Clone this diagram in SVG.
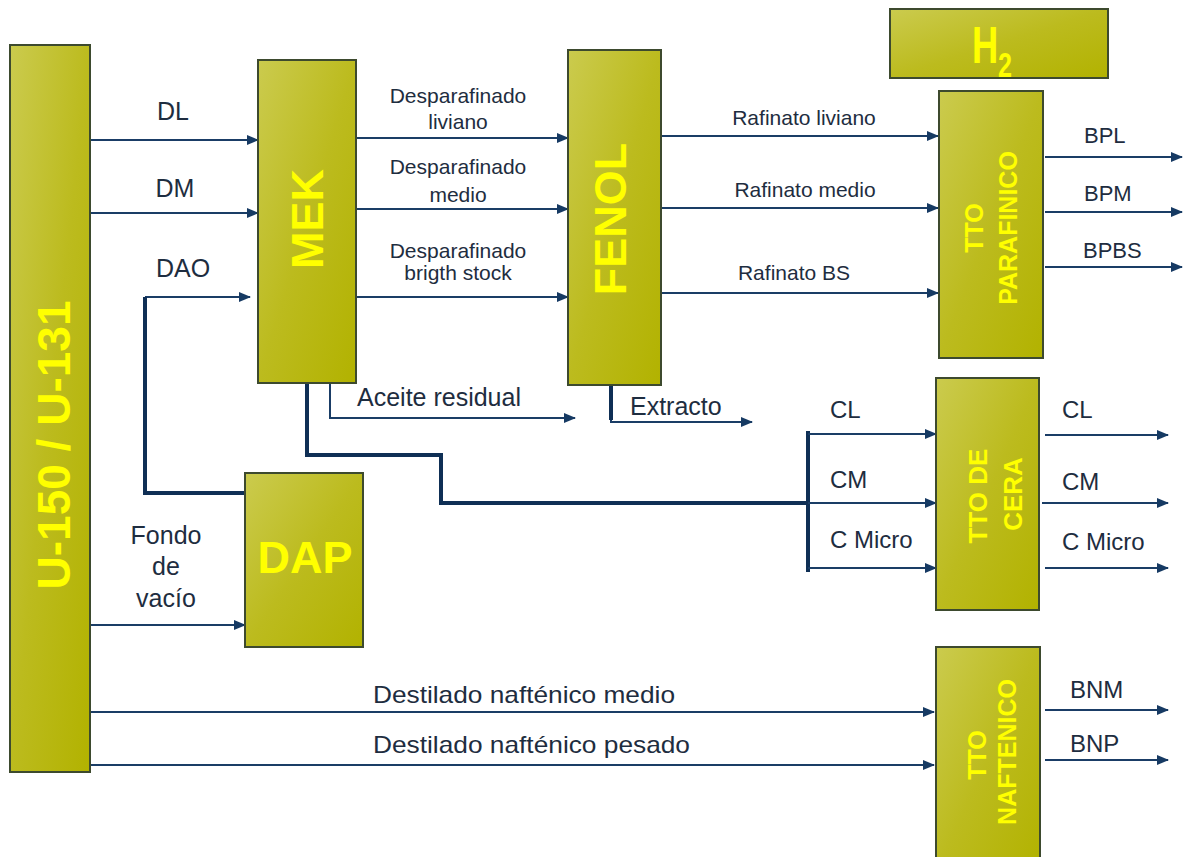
<svg xmlns="http://www.w3.org/2000/svg" width="1184" height="857" viewBox="0 0 1184 857">
<defs>
<linearGradient id="olive" x1="0" y1="0" x2="1" y2="1">
<stop offset="0" stop-color="#cbcb4e"/>
<stop offset="0.5" stop-color="#bcbb1e"/>
<stop offset="1" stop-color="#b2b200"/>
</linearGradient>
<marker id="ah" markerUnits="userSpaceOnUse" markerWidth="12" markerHeight="10" refX="11" refY="5" orient="auto">
<path d="M0,0 L12,5 L0,10 Z" fill="#163a63"/>
</marker>
</defs>
<style>
.box{fill:url(#olive);stroke:#3d4a2e;stroke-width:2}
.big{font-family:"Liberation Sans",Arial,sans-serif;font-weight:bold;fill:#ffff00}
.lbl{font-family:"Liberation Sans",Arial,sans-serif;fill:#1e2d40}
.ln{fill:none;stroke:#1a3d66;stroke-width:2}
.thk{fill:none;stroke:#0f2f55;stroke-width:4}
.arr{marker-end:url(#ah)}
</style>
<rect width="1184" height="857" fill="#ffffff"/>

<g id="connectors">
<path class="ln arr" d="M90,140 H258"/>
<path class="ln arr" d="M90,213 H258"/>
<path class="ln arr" d="M145,297 H250"/>
<path class="thk" d="M145,297 V493 H245"/>
<path class="ln arr" d="M90,625 H245"/>
<path class="ln arr" d="M356,138 H568"/>
<path class="ln arr" d="M356,209 H568"/>
<path class="ln arr" d="M356,297 H568"/>
<path class="ln arr" d="M330,383 V418 H575"/>
<path class="ln arr" d="M611,385 V422 H752"/>
<path class="thk" d="M611,385 V420"/>
<path class="thk" d="M307,383 V455 H441 V503 H808"/>
<path class="thk" d="M808,431 V572"/>
<path class="ln arr" d="M808,434 H936"/>
<path class="ln arr" d="M808,503 H936"/>
<path class="ln arr" d="M808,568 H936"/>
<path class="ln arr" d="M661,136 H938"/>
<path class="ln arr" d="M661,208 H938"/>
<path class="ln arr" d="M661,293 H938"/>
<path class="ln arr" d="M1045,157 H1182"/>
<path class="ln arr" d="M1045,212 H1182"/>
<path class="ln arr" d="M1045,267 H1182"/>
<path class="ln arr" d="M1045,435 H1168"/>
<path class="ln arr" d="M1042,503 H1168"/>
<path class="ln arr" d="M1045,568 H1168"/>
<path class="ln arr" d="M90,712 H934"/>
<path class="ln arr" d="M90,765 H934"/>
<path class="ln arr" d="M1045,710 H1168"/>
<path class="ln arr" d="M1045,760 H1168"/>
</g>

<g id="labels" class="lbl">
<text x="173" y="120" font-size="25" text-anchor="middle">DL</text>
<text x="175" y="197" font-size="25" text-anchor="middle">DM</text>
<text x="183" y="277" font-size="25" text-anchor="middle">DAO</text>
<text x="166" y="544" font-size="25" text-anchor="middle">Fondo</text>
<text x="166" y="575" font-size="25" text-anchor="middle">de</text>
<text x="166" y="607" font-size="25" text-anchor="middle">vacío</text>
<text x="458" y="103" font-size="21" text-anchor="middle">Desparafinado</text>
<text x="458" y="129" font-size="21" text-anchor="middle">liviano</text>
<text x="458" y="174" font-size="21" text-anchor="middle">Desparafinado</text>
<text x="458" y="202" font-size="21" text-anchor="middle">medio</text>
<text x="458" y="258" font-size="21" text-anchor="middle">Desparafinado</text>
<text x="458" y="280" font-size="21" text-anchor="middle">brigth stock</text>
<text x="357" y="406" font-size="25">Aceite residual</text>
<text x="630" y="415" font-size="25">Extracto</text>
<text x="804" y="125" font-size="21" text-anchor="middle">Rafinato liviano</text>
<text x="805" y="197" font-size="21" text-anchor="middle">Rafinato medio</text>
<text x="794" y="280" font-size="21" text-anchor="middle">Rafinato BS</text>
<text x="1084" y="143" font-size="22">BPL</text>
<text x="1084" y="201" font-size="22">BPM</text>
<text x="1083" y="258" font-size="22">BPBS</text>
<text x="830" y="418" font-size="24">CL</text>
<text x="830" y="488" font-size="24">CM</text>
<text x="830" y="548" font-size="24">C Micro</text>
<text x="1062" y="418" font-size="24">CL</text>
<text x="1062" y="490" font-size="24">CM</text>
<text x="1062" y="550" font-size="24">C Micro</text>
<text x="373" y="703" font-size="24" textLength="302" lengthAdjust="spacingAndGlyphs">Destilado nafténico medio</text>
<text x="373" y="753" font-size="24" textLength="317" lengthAdjust="spacingAndGlyphs">Destilado nafténico pesado</text>
<text x="1070" y="698" font-size="24">BNM</text>
<text x="1070" y="752" font-size="24">BNP</text>
</g>

<g id="u150">
<rect class="box" x="10" y="45" width="80" height="727"/>
<text class="big" font-size="46" text-anchor="middle" transform="translate(70,445) rotate(-90)">U-150 / U-131</text>
</g>

<g id="mek">
<rect class="box" x="258" y="60" width="98" height="323"/>
<text class="big" font-size="45" text-anchor="middle" transform="translate(323,219) rotate(-90)">MEK</text>
</g>

<g id="fenol">
<rect class="box" x="568" y="50" width="93" height="335"/>
<text class="big" font-size="45" text-anchor="middle" transform="translate(626,219) rotate(-90)">FENOL</text>
</g>

<g id="dap">
<rect class="box" x="245" y="473" width="118" height="174"/>
<text class="big" font-size="45" text-anchor="middle" x="305" y="573">DAP</text>
</g>

<g id="h2">
<rect class="box" x="890" y="9" width="218" height="69"/>
<text class="big" font-size="52" transform="translate(972,63) scale(0.7,1)">H</text>
<text class="big" font-size="36" transform="translate(998,77) scale(0.7,1)">2</text>
</g>

<g id="tto-parafinico">
<rect class="box" x="939" y="91" width="104" height="267"/>
<text class="big" font-size="25" text-anchor="middle" transform="translate(983,228) rotate(-90)">TTO</text>
<text class="big" font-size="25" text-anchor="middle" transform="translate(1017,228) rotate(-90)">PARAFINICO</text>
</g>

<g id="tto-cera">
<rect class="box" x="936" y="378" width="103" height="232"/>
<text class="big" font-size="26" text-anchor="middle" transform="translate(987,496) rotate(-90)">TTO DE</text>
<text class="big" font-size="26" text-anchor="middle" transform="translate(1022,494) rotate(-90)">CERA</text>
</g>

<g id="tto-naftenico">
<rect class="box" x="936" y="647" width="104" height="225"/>
<text class="big" font-size="25" text-anchor="middle" transform="translate(986,755) rotate(-90)">TTO</text>
<text class="big" font-size="25" text-anchor="middle" transform="translate(1016,752) rotate(-90)">NAFTENICO</text>
</g>
</svg>
